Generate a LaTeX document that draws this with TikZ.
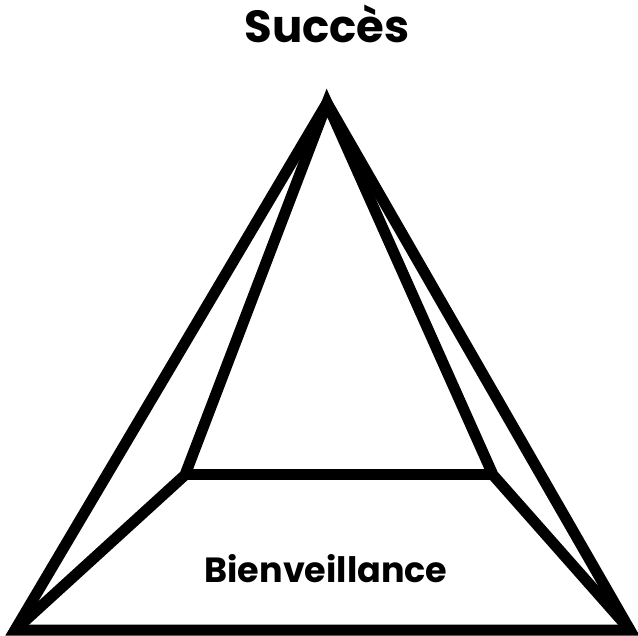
\documentclass[tikz,border=0pt]{standalone}
\usepackage{fontspec}
\setmainfont{Poppins}
\usetikzlibrary{positioning}

\begin{document}
\begin{tikzpicture}[
    x=1pt, y=-1pt,
    edge/.style={line width=11pt, line join=miter, line cap=butt},
    title/.style={font=\bfseries\fontsize{45}{45}\selectfont, inner sep=0pt},
    base/.style={font=\bfseries\fontsize{35}{35}\selectfont, inner sep=0pt}
]
\useasboundingbox (0,0) rectangle (638,636);

% sommet et base
\coordinate (apex) at (327,103);
\coordinate (bl) at (15,630);
\coordinate (br) at (630,630);
\coordinate (il) at (185,475);
\coordinate (ir) at (493,475);

% faces de la pyramide
\draw[edge] (apex) -- (bl) -- (br) -- cycle;
\draw[edge] (bl) -- (il) -- (apex) -- (ir) -- (br);
\draw[edge] (il) -- (ir);

% textes
\node[title, anchor=base] (top) at (327,43) {Succès};
\node[base, anchor=base] (bien) at (326,583) {Bienveillance};

\end{tikzpicture}
\end{document}
